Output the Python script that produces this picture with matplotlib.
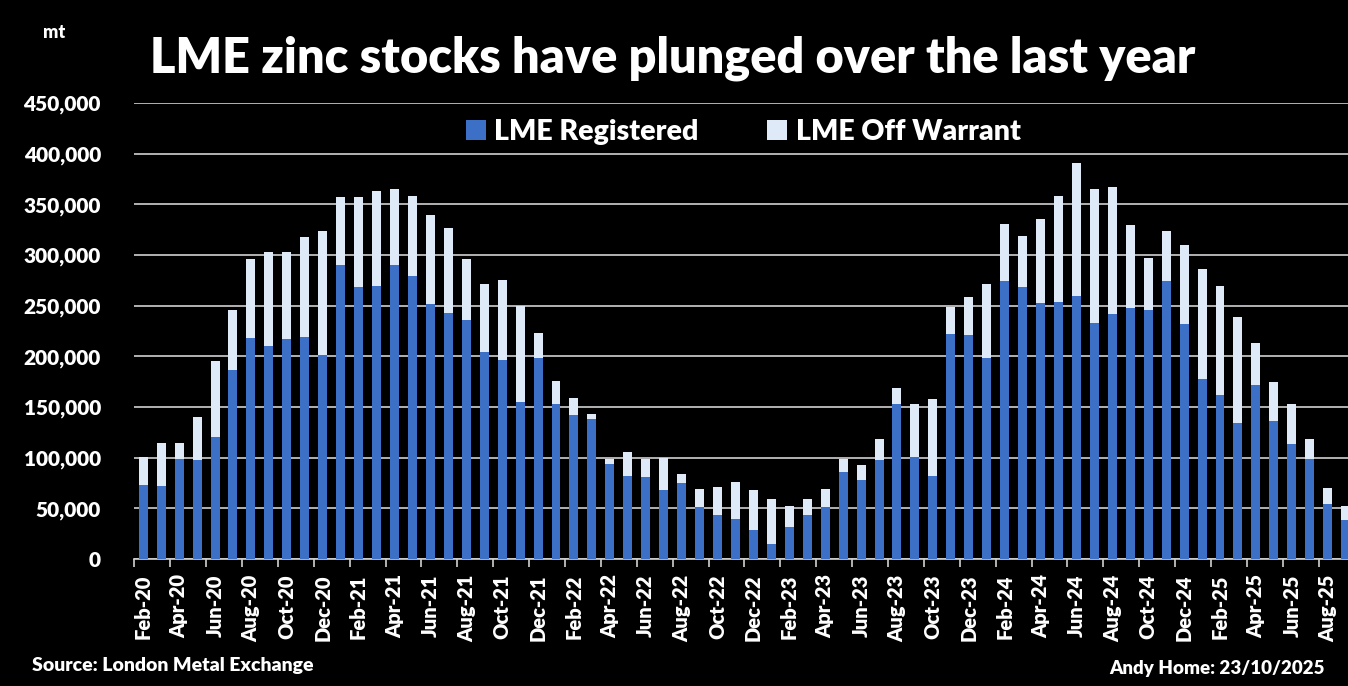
import numpy as np
import pandas as pd
import matplotlib
matplotlib.use("Agg")
import matplotlib.pyplot as plt
from matplotlib.ticker import FuncFormatter

# monthly LME zinc stocks, Feb-20 .. Sep-25 (tonnes)
months = pd.date_range("2020-02-01", "2025-09-01", freq="MS")

registered = [73000, 72000, 99000, 98000, 120500, 187000, 218500, 210500, 217500, 219500, 201000,
              290500, 268000, 269000, 290500, 279500, 252000, 243000, 235500, 204500, 196000,
              155000, 198000, 153000, 142500, 138500, 94000, 82000, 81000, 68500, 75000,
              51500, 43500, 39500, 28500, 15000, 31500, 43500, 51500, 86000, 78000, 98000,
              152500, 101000, 81500, 222000, 221000, 198000, 274500, 268500, 253000, 254000,
              259500, 233000, 242000, 248000, 245500, 274500, 232000, 178000, 162000, 134500,
              172000, 136500, 114000, 99000, 54500, 38500]

total = [100500, 114500, 114500, 140000, 195500, 246000, 296000, 303000, 303000, 318000, 324000,
         357000, 357000, 363500, 365000, 358000, 339500, 327000, 296000, 271500, 275500,
         249500, 223000, 176000, 159000, 143500, 98500, 105500, 98500, 99500, 84000,
         69500, 71000, 76000, 68000, 59500, 52500, 59500, 69500, 98500, 93000, 118500,
         169000, 152500, 157500, 248500, 258500, 271500, 330500, 318500, 335500, 358000,
         391000, 365000, 367000, 329500, 297000, 323500, 310000, 286000, 269500, 238500,
         213000, 174500, 152500, 118000, 70000, 52000]

off_warrant = [t - r for t, r in zip(total, registered)]
labels = [m.strftime("%b-%y") for m in months]

blue = "#3C70C6"
light = "#DEEAF7"
grid_c = "#D0D0D0"
W = 800  # heavy weight, closest to the Calibri bold of the original

plt.rcParams["font.family"] = ["Lato", "DejaVu Sans"]
plt.rcParams["font.weight"] = W

fig = plt.figure(figsize=(13.48, 6.86), dpi=100, facecolor="black")
ax = fig.add_axes([0.0996, 0.1851, 0.9053, 0.6647], facecolor="black")

x = np.arange(len(months))
ax.bar(x, registered, width=0.5, color=blue, label="LME Registered", zorder=3)
ax.bar(x, off_warrant, width=0.5, bottom=registered, color=light, label="LME Off Warrant", zorder=3)

ax.set_xlim(-0.5, len(months) - 0.5)
ax.set_ylim(0, 450000)
ax.set_yticks(np.arange(0, 450001, 50000))
ax.yaxis.set_major_formatter(FuncFormatter(lambda v, p: f"{int(v):,}"))
ax.grid(axis="y", color=grid_c, linewidth=1.2, zorder=0)

ax.set_xticks(x[::2])
ax.set_xticklabels(labels[::2], rotation=90)
ax.set_xticks(np.arange(-0.5, len(months), 2), minor=True)
ax.tick_params(axis="x", which="major", length=0, pad=11, labelsize=14.5, colors="white")
ax.tick_params(axis="x", which="minor", length=6, width=1.2, color=grid_c)
ax.tick_params(axis="y", length=0, pad=24, labelsize=15, colors="white")
plt.setp(ax.get_xticklabels() + ax.get_yticklabels(), fontweight=W)

for s in ["top", "right", "left"]:
    ax.spines[s].set_visible(False)
ax.spines["bottom"].set_color(grid_c)
ax.spines["bottom"].set_linewidth(1.2)

leg = ax.legend(loc="upper center", bbox_to_anchor=(0.499, 1.022), ncol=2, frameon=False,
                prop={"size": 20.5, "weight": W}, handlelength=0.7, handleheight=0.7,
                handletextpad=0.3, columnspacing=2.4, labelcolor="white")

fig.text(0.111, 0.915, "LME zinc stocks have plunged over the last year", color="white",
         fontsize=35, fontweight=W, va="center", ha="left")
fig.text(0.032, 0.953, "mt", color="white", fontsize=13, fontweight=W, va="center")
fig.text(0.024, 0.03, "Source: London Metal Exchange", color="white", fontsize=14,
         fontweight=W, va="center")
fig.text(0.983, 0.025, "Andy Home: 23/10/2025", color="white", fontsize=13.5,
         fontweight=W, va="center", ha="right")

fig.savefig("out.png", dpi=100, facecolor="black")
